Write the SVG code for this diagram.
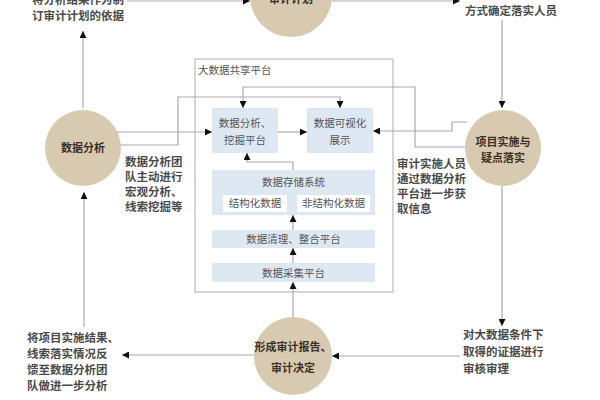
<svg xmlns="http://www.w3.org/2000/svg" width="600" height="400" viewBox="0 0 600 400">
<defs>
<style>
.t{font-family:"Noto Sans CJK SC","Noto Sans",sans-serif;font-weight:bold;fill:#4a4a4a;font-size:11.5px}
.c{font-family:"Noto Sans CJK SC","Noto Sans",sans-serif;font-weight:bold;fill:#3b2f25;font-size:11px;text-anchor:middle}
.b{font-family:"Noto Sans CJK SC","Noto Sans",sans-serif;fill:#555;font-size:10.5px;text-anchor:middle}
.circ{fill:#d8cab0}
.blue{fill:#dde8f3}
.ln{fill:none;stroke:#aaa;stroke-width:1.2}
</style>
<marker id="ah" viewBox="0 0 10 10" refX="10" refY="5" markerWidth="7" markerHeight="7" markerUnits="userSpaceOnUse" orient="auto">
<path d="M0,0 L10,5 L0,10 z" fill="#111"/>
</marker>
</defs>
<rect width="600" height="400" fill="#fff"/>

<g id="platform">
<rect x="195" y="59" width="198" height="233" fill="#fff" stroke="#bbb" stroke-width="1.2"/>
<text class="b" x="198" y="74" style="text-anchor:start">大数据共享平台</text>
</g>
<g id="analysis-platform">
<rect class="blue" x="212" y="108" width="66" height="45"/>
<text class="b" x="245" y="127">数据分析、</text>
<text class="b" x="245" y="144">挖掘平台</text>
</g>
<g id="visual">
<rect class="blue" x="307" y="108" width="66" height="45"/>
<text class="b" x="340" y="127">数据可视化</text>
<text class="b" x="340" y="144">展示</text>
</g>
<g id="storage">
<rect class="blue" x="212" y="170" width="163" height="45"/>
<text class="b" x="293.5" y="186">数据存储系统</text>
<rect x="223" y="195" width="64" height="17" fill="#fff"/>
<text class="b" x="255" y="207">结构化数据</text>
<rect x="297" y="195" width="73" height="17" fill="#fff"/>
<text class="b" x="333.5" y="207">非结构化数据</text>
</g>
<g id="cleaning">
<rect class="blue" x="212" y="230" width="163" height="18"/>
<text class="b" x="293.5" y="243">数据清理、整合平台</text>
</g>
<g id="collection">
<rect class="blue" x="212" y="263" width="163" height="19"/>
<text class="b" x="293.5" y="276.5">数据采集平台</text>
</g>

<g id="connectors">
<path class="ln" d="M127,1 H250" marker-end="url(#ah)"/>
<path class="ln" d="M332,1 H460" marker-end="url(#ah)"/>
<path class="ln" d="M83,108 V31" marker-end="url(#ah)"/>
<path class="ln" d="M84,327 V192" marker-end="url(#ah)"/>
<path class="ln" d="M502,20 V108" marker-end="url(#ah)"/>
<path class="ln" d="M502,186 V326" marker-end="url(#ah)"/>
<path class="ln" d="M460,356 H332" marker-end="url(#ah)"/>
<path class="ln" d="M254,355 H122" marker-end="url(#ah)"/>
<path class="ln" d="M293,317 V282" marker-end="url(#ah)"/>
<path class="ln" d="M293,263 V248" marker-end="url(#ah)"/>
<path class="ln" d="M293,230 V215" marker-end="url(#ah)"/>
<path class="ln" d="M293,170 V162 H247 V153" marker-end="url(#ah)"/>
<path class="ln" d="M117,132 H212" marker-end="url(#ah)"/>
<path class="ln" d="M278,132 H307" marker-end="url(#ah)"/>
<path class="ln" d="M120,145 H178 V97 H340 V108" marker-end="url(#ah)"/>
<path class="ln" d="M467,122 H452 V131 H373" marker-end="url(#ah)"/>
<path class="ln" d="M466,147 H415 V87 H243 V108" marker-end="url(#ah)"/>
</g>

<g id="plan">
<circle class="circ" cx="291" cy="-4" r="41"/>
<text class="c" x="291" y="3">审计计划</text>
</g>
<g id="data-analysis">
<circle class="circ" cx="83" cy="148" r="38"/>
<text class="c" x="83" y="152">数据分析</text>
</g>
<g id="implement">
<circle class="circ" cx="503" cy="148" r="38"/>
<text class="c" x="503" y="146">项目实施与</text>
<text class="c" x="503" y="162">疑点落实</text>
</g>
<g id="report">
<circle class="circ" cx="293" cy="356" r="39"/>
<text class="c" x="293" y="351">形成审计报告、</text>
<text class="c" x="293" y="372">审计决定</text>
</g>

<g id="texts">
<text class="t" x="32" y="3.5">将分析结果作为制</text>
<text class="t" x="32" y="19.5">订审计计划的依据</text>
<text class="t" x="465" y="14.5">方式确定落实人员</text>
<text class="t" x="125" y="166">数据分析团</text>
<text class="t" x="125" y="181">队主动进行</text>
<text class="t" x="125" y="196">宏观分析、</text>
<text class="t" x="125" y="211">线索挖掘等</text>
<text class="t" x="397" y="168">审计实施人员</text>
<text class="t" x="397" y="183">通过数据分析</text>
<text class="t" x="397" y="198">平台进一步获</text>
<text class="t" x="397" y="213">取信息</text>
<text class="t" x="27" y="342">将项目实施结果、</text>
<text class="t" x="27" y="358">线索落实情况反</text>
<text class="t" x="27" y="374">馈至数据分析团</text>
<text class="t" x="27" y="390">队做进一步分析</text>
<text class="t" x="463" y="339">对大数据条件下</text>
<text class="t" x="463" y="356">取得的证据进行</text>
<text class="t" x="463" y="373">审核审理</text>
</g>
</svg>
